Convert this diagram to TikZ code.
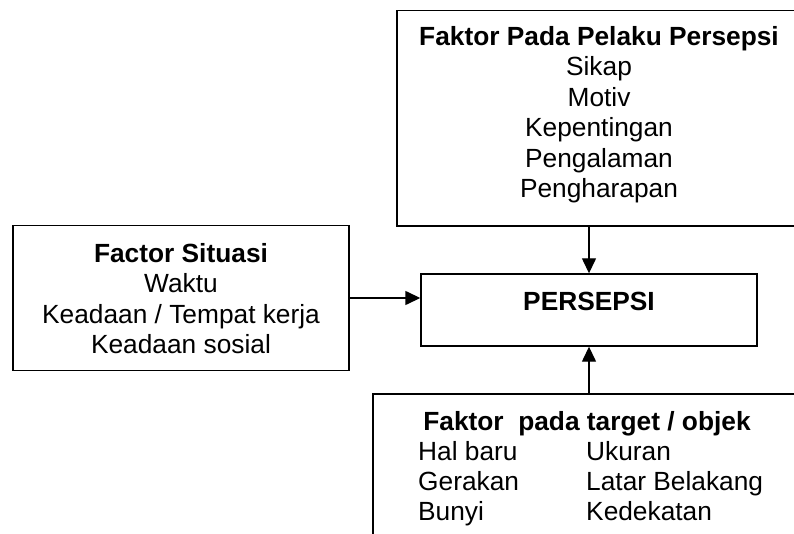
\documentclass[tikz,border=0pt]{standalone}
\usepackage{fontspec}
\setmainfont{Liberation Sans}
\usetikzlibrary{arrows.meta}
\tikzset{
  boxnode/.style={draw=black, line width=1.4pt, rectangle, inner sep=0pt},
  txt/.style={inner sep=0pt, font=\fontsize{26.3}{30}\selectfont, text=black},
  txtb/.style={txt, font=\fontsize{26.3}{30}\selectfont\bfseries},
  conn/.style={draw=black, line width=1.4pt, -{Triangle[length=15pt,width=14pt]}}
}
\begin{document}
\begin{tikzpicture}[x=1pt,y=-1pt]
\useasboundingbox (0,0) rectangle (794,534);
\fill[white] (0,0) rectangle (794,534);
\clip (0,0) rectangle (794,534);
% boxes
\node[boxnode, minimum width=404pt, minimum height=215.5pt] (pelaku) at (599,118.25) {};
\node[boxnode, minimum width=336pt, minimum height=145pt] (situasi) at (181,298) {};
\node[boxnode, minimum width=336pt, minimum height=72pt] (persepsi) at (589,310) {};
\node[boxnode, minimum width=428pt, minimum height=206pt] (target) at (587,497) {};
% connectors
\draw[conn] (persepsi.north |- pelaku.south) -- (persepsi.north);
\draw[conn] (situasi.east) -- (persepsi.west |- situasi.east);
\draw[conn] (persepsi.south |- target.north) -- (persepsi.south);
% top box text
\node[txtb, anchor=base] (p0) at (599,46) {Faktor Pada Pelaku Persepsi};
\node[txt, anchor=base] (p1) at (599,76) {Sikap};
\node[txt, anchor=base] (p2) at (599,107) {Motiv};
\node[txt, anchor=base] (p3) at (599,137) {Kepentingan};
\node[txt, anchor=base] (p4) at (599,168) {Pengalaman};
\node[txt, anchor=base] (p5) at (599,198) {Pengharapan};
% left box text
\node[txtb, anchor=base] (s0) at (181,263) {Factor Situasi};
\node[txt, anchor=base] (s1) at (181,293) {Waktu};
\node[txt, anchor=base] (s2) at (181,323) {Keadaan / Tempat kerja};
\node[txt, anchor=base] (s3) at (181,353) {Keadaan sosial};
% persepsi text
\node[txtb, anchor=base] (c0) at (589,310) {PERSEPSI};
% bottom box text
\node[txtb, anchor=base] (t0) at (587,430) {Faktor\ \ pada target / objek};
\node[txt, anchor=base west] (t1) at (418,460) {Hal baru};
\node[txt, anchor=base west] (t2) at (418,490) {Gerakan};
\node[txt, anchor=base west] (t3) at (418,520) {Bunyi};
\node[txt, anchor=base west] (t4) at (586,460) {Ukuran};
\node[txt, anchor=base west] (t5) at (586,490) {Latar Belakang};
\node[txt, anchor=base west] (t6) at (586,520) {Kedekatan};
\end{tikzpicture}
\end{document}
